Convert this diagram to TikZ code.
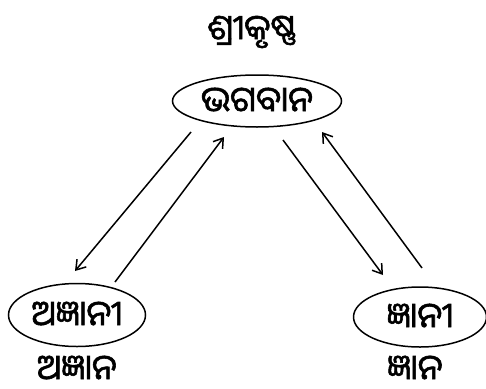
\documentclass[tikz,border=0pt]{standalone}
\usepackage{fontspec}
\newfontfamily\oriya[Script=Oriya,FakeBold=1.6]{Noto Sans Oriya UI}
\usetikzlibrary{shapes.geometric,arrows.meta}
\begin{document}
\begin{tikzpicture}[x=1pt,y=-1pt,
  txtfont/.style={font=\oriya\fontsize{35}{40}\selectfont},
  lbl/.style={txtfont, inner sep=0pt},
  oval/.style={ellipse, draw, line width=1.5pt, inner sep=0pt, txtfont},
  conn/.style={line width=1.5pt, -{Straight Barb[length=9pt,width=12pt,line width=1.5pt]}}]
\useasboundingbox (0,0) rectangle (486,388);
\node[lbl] (top) at (252,32) {ଶ୍ରୀକୃଷ୍ଣ};
\node[oval, minimum width=169pt, minimum height=52pt] (bh) at (257,101) {ଭଗବାନ};
\node[oval, minimum width=137pt, minimum height=63pt] (aj) at (77,315) {ଅଜ୍ଞାନୀ};
\node[oval, minimum width=133pt, minimum height=60pt] (jn) at (420,317) {ଜ୍ଞାନୀ};
\node[lbl] (ajl) at (77,369) {ଅଜ୍ଞାନ};
\node[lbl] (jnl) at (415,369) {ଜ୍ଞାନ};
\coordinate (a1s) at (191,132); \coordinate (a1e) at (75,271);
\coordinate (a2s) at (115,282); \coordinate (a2e) at (224,137);
\coordinate (a3s) at (283,140); \coordinate (a3e) at (383,275);
\coordinate (a4s) at (422,268); \coordinate (a4e) at (322,132);
\draw[conn] (a1s) -- (a1e);
\draw[conn] (a2s) -- (a2e);
\draw[conn] (a3s) -- (a3e);
\draw[conn] (a4s) -- (a4e);
\end{tikzpicture}
\end{document}
